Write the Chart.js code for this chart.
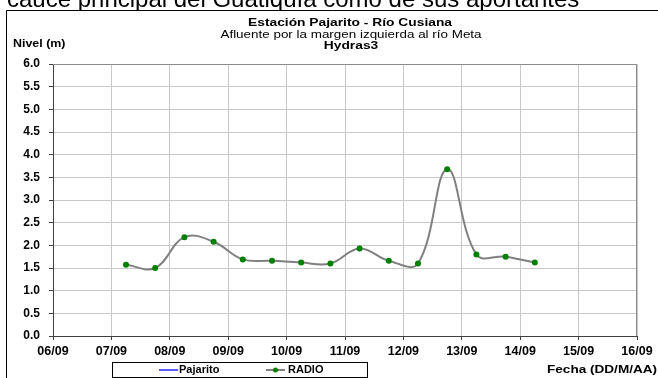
<!DOCTYPE html>
<html lang="es">
<head>
  <meta charset="UTF-8" />
  <title>Estación Pajarito - Río Cusiana</title>
  <style>
    body { margin: 0; background: white; overflow: hidden; }
    #wrap { position: relative; width: 658px; height: 378px; }
  </style>
</head>
<body>
  <div id="wrap"><canvas id="chart" width="658" height="378"></canvas></div>

  <script src="https://cdn.jsdelivr.net/npm/chart.js"></script>
  <script>
    // datos
    const dayTicks = ['06/09', '07/09', '08/09', '09/09', '10/09', '11/09', '12/09', '13/09', '14/09', '15/09', '16/09'];
    const radioTimes = ['07/09 06:00', '07/09 18:00', '08/09 06:00', '08/09 18:00', '09/09 06:00',
                        '09/09 18:00', '10/09 06:00', '10/09 18:00', '11/09 06:00', '11/09 18:00',
                        '12/09 06:00', '12/09 18:00', '13/09 06:00', '13/09 18:00', '14/09 06:00'];
    const radioLevels = [1.57, 1.50, 2.18, 2.08, 1.69, 1.66, 1.62, 1.60, 1.93, 1.66, 1.60, 3.68, 1.80, 1.75, 1.62];
    const pajaritoTimes = [];
    const pajaritoLevels = [];

    const FONT = "'Liberation Sans', Arial, sans-serif";
    const firstDay = 6;

    // 'DD/MM HH:MM' -> dias desde 06/09
    function toDays(s) {
      const [d, t] = s.split(' ');
      const day = parseInt(d.split('/')[0], 10);
      const [h, m] = (t || '00:00').split(':').map(Number);
      return day - firstDay + (h + m / 60) / 24;
    }
    const toPoints = (times, vals) => times.map((t, i) => ({ x: toDays(t), y: vals[i] }));

    // el texto del original sale un poco ensanchado
    function wideText(c, text, x, y, font, sx, align) {
      c.save();
      c.font = font;
      c.textAlign = align || 'left';
      c.translate(x, y);
      c.scale(sx, 1);
      c.fillText(text, 0, 0);
      c.restore();
    }

    const decor = {
      id: 'decor',
      beforeDraw(chart) {
        const c = chart.ctx;
        c.save();
        c.fillStyle = '#fff';
        c.fillRect(0, 0, chart.width, chart.height);
        // texto cortado de la pagina de arriba
        c.fillStyle = '#000';
        c.textBaseline = 'alphabetic';
        wideText(c, 'cauce principal del Guatiquía como de sus aportantes', 7, 6.5, '24px ' + FONT, 1);
        c.fillStyle = '#fff';
        c.fillRect(0, 11, chart.width, chart.height);
        // marco exterior
        c.strokeStyle = '#000';
        c.lineWidth = 1;
        c.beginPath();
        c.moveTo(6.5, chart.height);
        c.lineTo(6.5, 10.5);
        c.lineTo(chart.width, 10.5);
        c.stroke();
        c.restore();
      },
      beforeDatasetsDraw(chart) {
        const a = chart.chartArea, c = chart.ctx;
        c.save();
        c.strokeStyle = '#8c8c8c';
        c.lineWidth = 1;
        c.beginPath();
        c.moveTo(a.left, a.top + 0.5);
        c.lineTo(a.right - 0.5, a.top + 0.5);
        c.lineTo(a.right - 0.5, a.bottom);
        c.stroke();
        c.restore();
      },
      afterDraw(chart) {
        const c = chart.ctx;
        c.save();
        c.fillStyle = '#000';
        c.textBaseline = 'middle';
        wideText(c, 'Estación Pajarito - Río Cusiana', 350, 23, 'bold 11.5px ' + FONT, 1.2, 'center');
        wideText(c, 'Afluente por la margen izquierda al río Meta', 351, 34.5, '11px ' + FONT, 1.22, 'center');
        wideText(c, 'Hydras3', 351, 46, 'bold 11.5px ' + FONT, 1.2, 'center');
        wideText(c, 'Nivel (m)', 13, 43.5, 'bold 11.5px ' + FONT, 1.08);
        wideText(c, 'Fecha (DD/M/AA)', 547, 370, 'bold 11.5px ' + FONT, 1.18);

        // leyenda
        c.strokeStyle = '#000';
        c.lineWidth = 1;
        c.strokeRect(112.5, 362.5, 255, 15);
        c.lineWidth = 2;
        c.strokeStyle = '#5b5bff';
        c.beginPath(); c.moveTo(159, 370); c.lineTo(178, 370); c.stroke();
        c.strokeStyle = '#808080';
        c.beginPath(); c.moveTo(266, 370); c.lineTo(285, 370); c.stroke();
        c.fillStyle = '#008000';
        c.beginPath(); c.arc(275.5, 370, 2.5, 0, Math.PI * 2); c.fill();
        c.fillStyle = '#000';
        wideText(c, 'Pajarito', 179, 370.5, 'bold 10px ' + FONT, 1.1);
        wideText(c, 'RADIO', 288, 370.5, 'bold 10px ' + FONT, 1.1);
        c.restore();
      }
    };

    new Chart(document.getElementById('chart'), {
      type: 'line',
      data: {
        datasets: [{
          label: 'Pajarito',
          data: toPoints(pajaritoTimes, pajaritoLevels),
          borderColor: '#5b5bff',
          borderWidth: 2,
          pointRadius: 0
        }, {
          label: 'RADIO',
          data: toPoints(radioTimes, radioLevels),
          borderColor: '#808080',
          borderWidth: 2,
          tension: 0.4,
          pointRadius: 3,
          pointBackgroundColor: '#008000',
          pointBorderColor: '#008000',
          pointBorderWidth: 0
        }]
      },
      options: {
        responsive: false,
        animation: false,
        layout: { padding: { top: 64, right: 21, left: 0, bottom: 0 } },
        plugins: { legend: { display: false }, title: { display: false }, tooltip: { enabled: false } },
        scales: {
          x: {
            type: 'linear',
            min: 0,
            max: dayTicks.length - 1,
            afterBuildTicks(scale) {
              scale.ticks = dayTicks.map((_, i) => ({ value: i }));
            },
            afterFit(scale) { scale.height = 42; },
            ticks: {
              callback: (v) => dayTicks[v],
              font: { family: FONT, size: 12.5, weight: 'bold' },
              color: '#000',
              padding: 4,
              maxRotation: 0
            },
            grid: { color: '#c8c8c8', tickColor: '#404040', tickLength: 4 },
            border: { color: '#404040', width: 1 }
          },
          y: {
            min: 0,
            max: 6,
            afterFit(scale) { scale.width = 53; },
            ticks: {
              stepSize: 0.5,
              callback: (v) => v.toFixed(1),
              font: { family: FONT, size: 12, weight: 'bold' },
              color: '#000',
              padding: 9
            },
            grid: { color: '#c8c8c8', tickColor: '#404040', tickLength: 4 },
            border: { color: '#404040', width: 1 }
          }
        }
      },
      plugins: [decor]
    });
  </script>
</body>
</html>
